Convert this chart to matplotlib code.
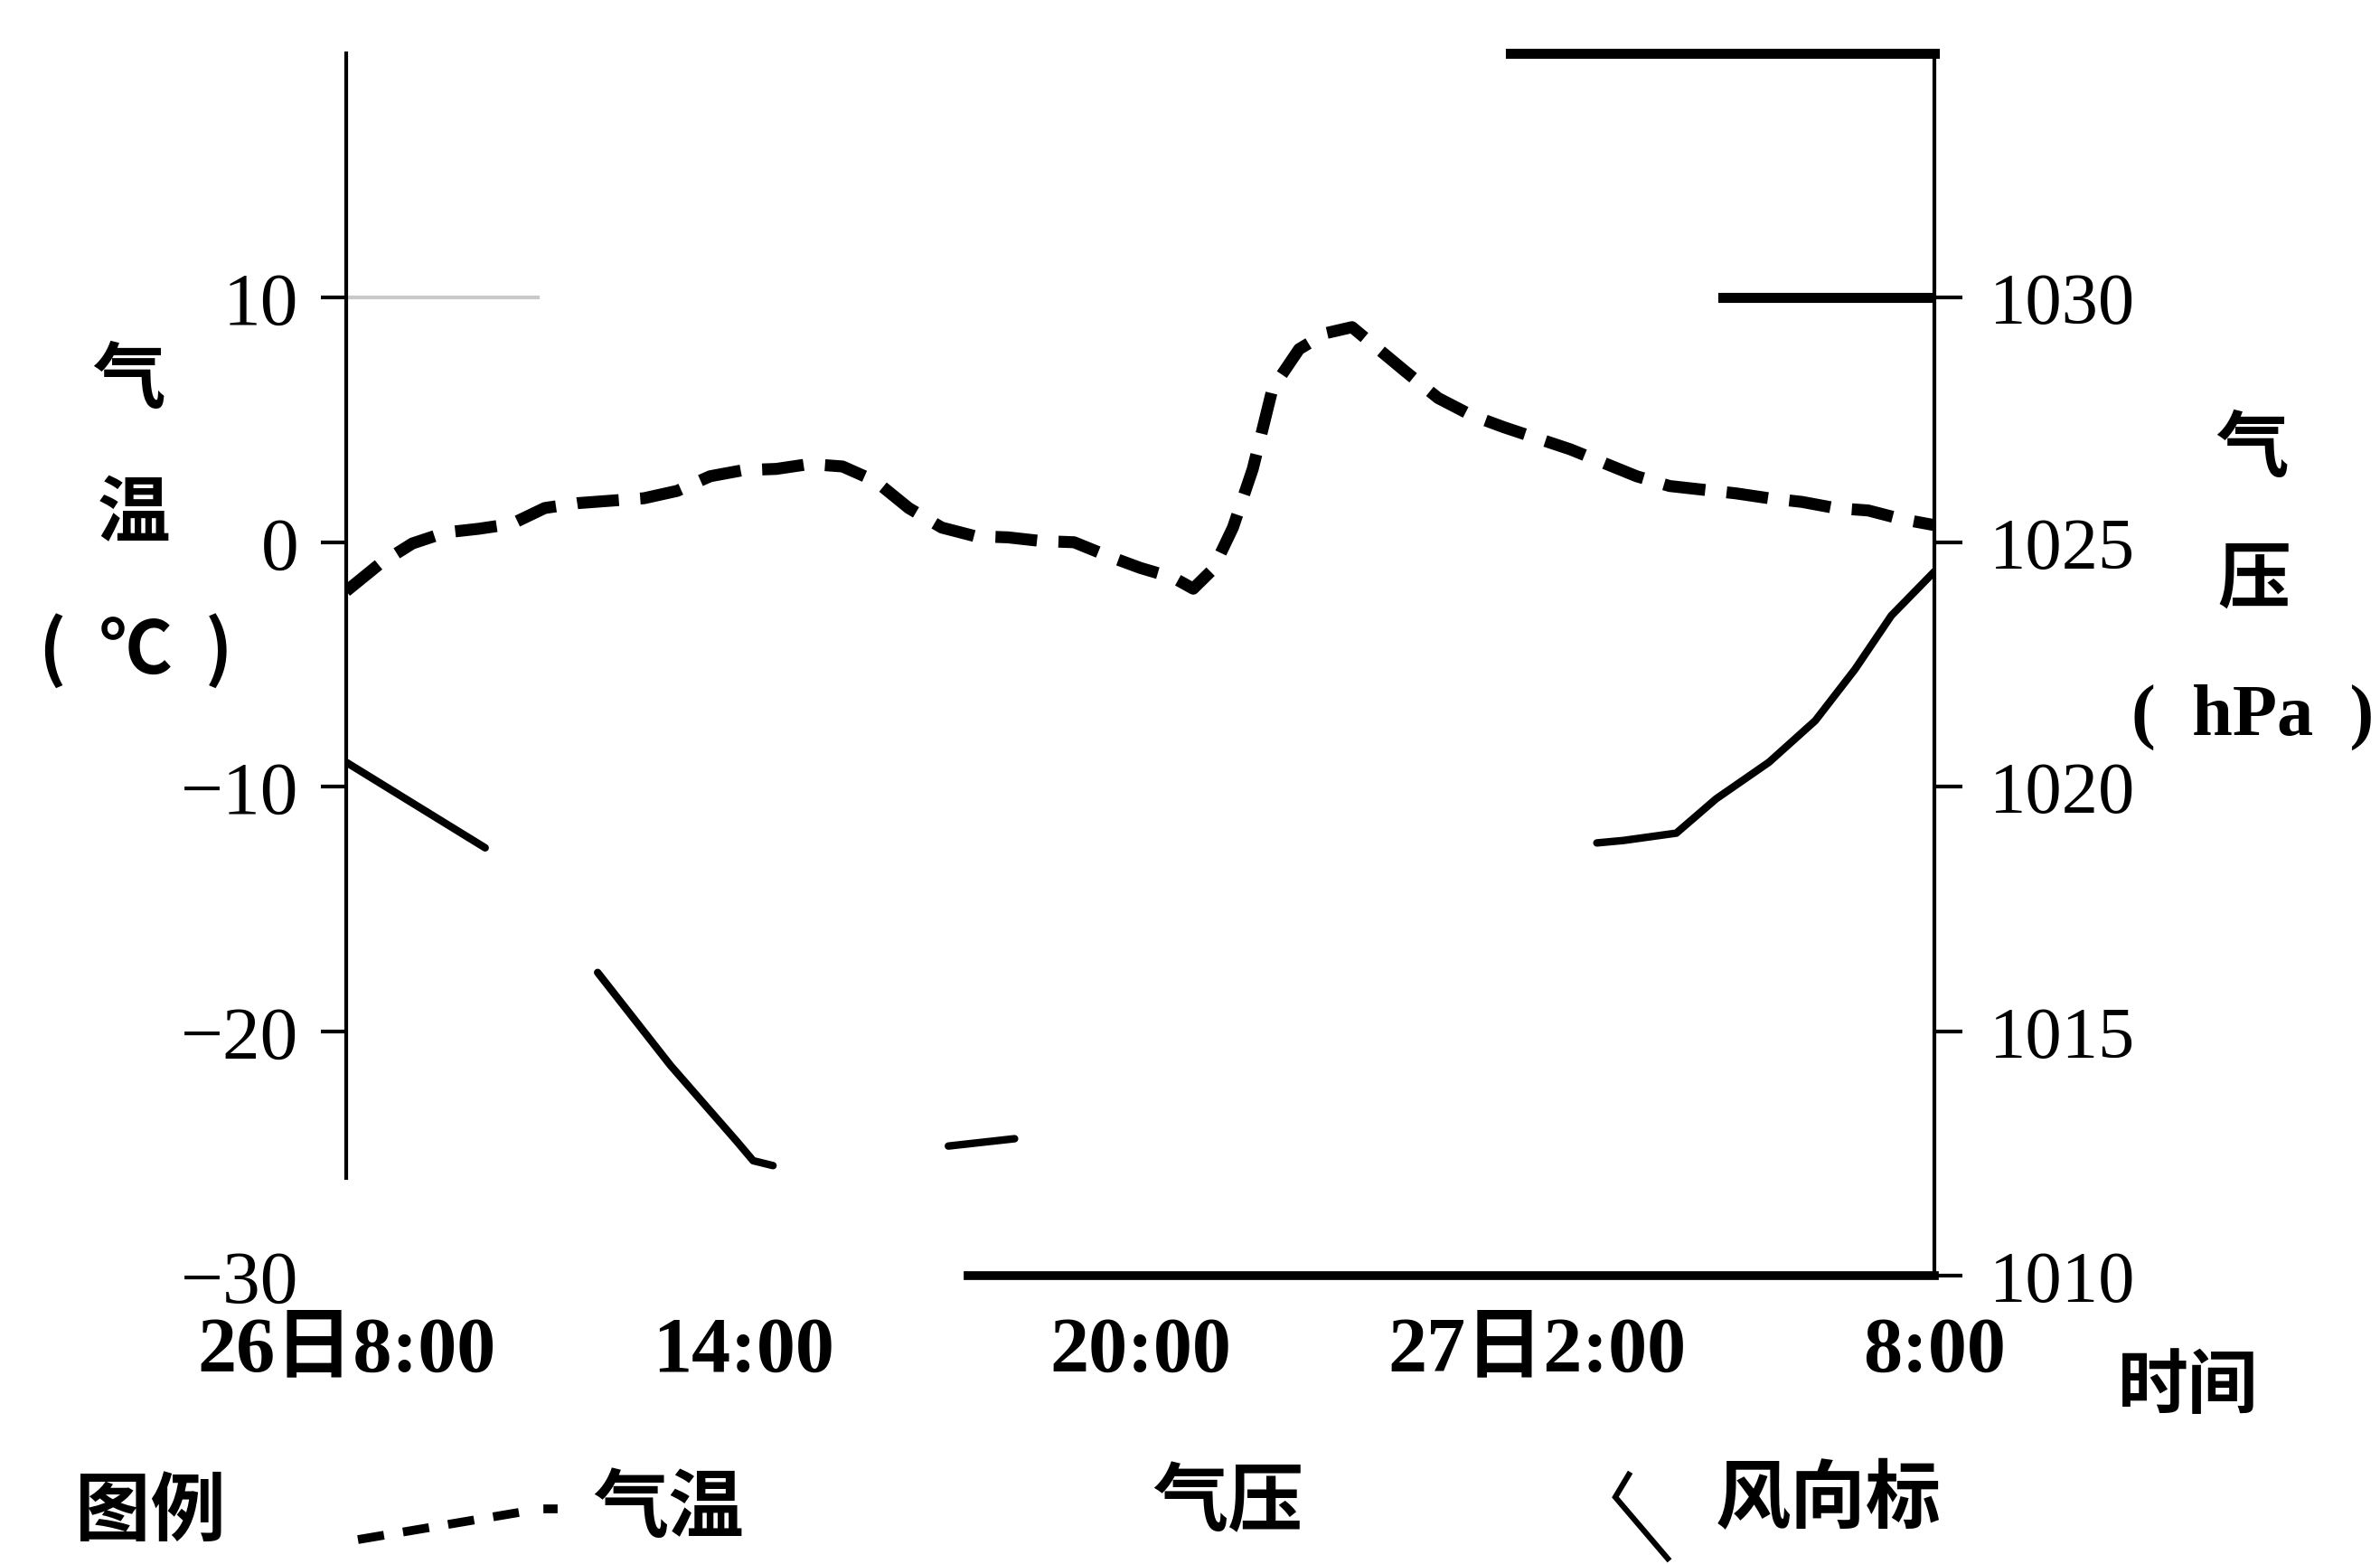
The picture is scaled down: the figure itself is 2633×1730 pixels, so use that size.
import numpy as np
import matplotlib
matplotlib.use("Agg")
import matplotlib.pyplot as plt
from matplotlib.lines import Line2D

# ---------------- data ----------------
# hours after 26日 8:00
temp_hours = [0, 0.5, 1.0, 1.5, 2.0, 2.5, 3.0, 3.5, 4.0, 4.5, 5.0, 5.5, 6.0, 6.5,
              7.0, 7.5, 8.0, 8.5, 9.0, 9.5, 10.0, 10.5, 11.0, 11.5, 12.0, 12.5,
              12.8, 13.1, 13.4, 13.7, 14.0, 14.4, 14.8, 15.2, 15.6, 16.0, 16.5,
              17.0, 17.5, 18.0, 18.5, 19.0, 19.5, 20.0, 20.5, 21.0, 21.5, 22.0,
              22.5, 23.0, 23.5, 24.0]
temp_c = [-2.0, -0.9, -0.05, 0.4, 0.55, 0.75, 1.4, 1.6, 1.7, 1.8, 2.1, 2.7, 2.95, 3.0,
          3.2, 3.1, 2.5, 1.4, 0.6, 0.25, 0.2, 0.05, 0.0, -0.55, -1.05, -1.45,
          -1.9, -1.1, 0.6, 3.0, 6.3, 7.9, 8.55, 8.8, 7.9, 7.0, 5.9,
          5.2, 4.7, 4.25, 3.8, 3.25, 2.7, 2.3, 2.15, 2.0, 1.8, 1.65,
          1.4, 1.3, 0.95, 0.7]

# pressure trace: only the parts that are legible in the scan (gaps = nan)
pres_hours = [0.0, 2.1, np.nan, 3.8, 4.9, 5.9, 6.15, 6.45, np.nan, 9.1, 10.1, np.nan,
              18.9, 19.3, 20.1, 20.7, 21.5, 22.2, 22.8, 23.35, 24.0]
pres_hpa = [1020.5, 1018.75, np.nan, 1016.2, 1014.3, 1012.75, 1012.35, 1012.25, np.nan,
            1012.65, 1012.8, np.nan,
            1018.85, 1018.9, 1019.05, 1019.75, 1020.5, 1021.35, 1022.4, 1023.5, 1024.4]

xtick_hours = [0, 6, 12, 18, 24]
xtick_labels = ["26日8:00", "14:00", "20:00", "27日2:00", "8:00"]
temp_ticks = [10, 0, -10, -20, -30]
temp_tick_labels = ["10", "0", "\u221210", "\u221220", "\u221230"]
pres_ticks = [1030, 1025, 1020, 1015, 1010]
pres_tick_labels = ["1030", "1025", "1020", "1015", "1010"]

# ---------------- figure ----------------
W, H = 2633, 1731
plt.rcParams["font.family"] = ["Liberation Serif", "Noto Sans CJK SC", "DejaVu Sans"]
CJK = ["Noto Sans CJK SC", "DejaVu Sans"]

fig = plt.figure(figsize=(W / 100, H / 100), dpi=100)
fig.patch.set_facecolor("white")

L, R, T, B = 383, 2140, 60, 1412
ax = fig.add_axes([L / W, 1 - B / H, (R - L) / W, (B - T) / H])
ax.set_xlim(0, 24)
ax.set_ylim(-30, 20)
ax2 = ax.twinx()
ax2.set_ylim(1010, 1035)

# spines as seen in the (partly faded) scan
ax.spines["left"].set_linewidth(3.0)
ax.spines["left"].set_bounds(-26, 20)
ax.spines["right"].set_visible(False)
ax.spines["top"].set_linewidth(8)
ax.spines["top"].set_bounds(17.6, 24)
ax.spines["bottom"].set_linewidth(7)
ax.spines["bottom"].set_bounds(9.4, 24)
for s in ["left", "top", "bottom"]:
    ax2.spines[s].set_visible(False)
ax2.spines["right"].set_linewidth(3.0)

# horizontal line at 10 °C / 1030 hPa
ax.axhline(10, xmin=0, xmax=2.9 / 24, color="#c9c9c9", lw=3)
ax.axhline(10, xmin=20.8 / 24, xmax=1, color="black", lw=8)

# series
ax.plot(temp_hours, temp_c, color="black", lw=9.5,
        linestyle=(0, (3.5, 1.8)), dash_capstyle="butt", zorder=3)
ax2.plot(pres_hours, pres_hpa, color="black", lw=6,
         solid_capstyle="round", zorder=3)

# ticks
ax.set_xticks(xtick_hours)
ax.set_xticklabels(xtick_labels, fontsize=62, fontweight="bold")
ax.tick_params(axis="x", length=0, pad=32)
ax.set_yticks(temp_ticks)
ax.set_yticklabels(temp_tick_labels, fontsize=60)
ax.tick_params(axis="y", direction="out", length=20, width=3, pad=18)
ax.yaxis.get_major_ticks()[-1].tick1line.set_visible(False)
ax2.set_yticks(pres_ticks)
ax2.set_yticklabels(pres_tick_labels, fontsize=58)
ax2.tick_params(axis="y", direction="out", length=22, width=3, pad=22)

def ftext(x, y, s, size, family=CJK, weight="bold", **kw):
    fig.text(x / W, 1 - y / H, s, ha="center", va="center", fontsize=size,
             family=family, fontweight=weight, **kw)

# left axis title
ftext(142, 421, "气", 58)
ftext(148, 570, "温", 58)
ftext(150, 720, "(  ℃  )", 58)
# right axis title
ftext(2491, 498, "气", 58)
ftext(2494, 642, "压", 58)
ftext(2492, 793, "(  hPa  )", 58, family=["Liberation Serif", "DejaVu Serif"])
# time label
ftext(2421, 1534, "时间", 56)

# legend row
ftext(166, 1673, "图例", 60)
fig.add_artist(Line2D([396 / W, 574 / W], [1 - 1704 / H, 1 - 1674 / H],
                      color="black", lw=7, linestyle=(0, (3.0, 2.2)),
                      dash_capstyle="butt", transform=fig.transFigure))
fig.add_artist(Line2D([606 / W, 612 / W], [1 - 1670 / H, 1 - 1670 / H],
                      color="black", lw=7, transform=fig.transFigure))
ftext(740, 1670, "气温", 60)
ftext(1359, 1663, "气压", 60)
fig.add_artist(Line2D([1802 / W, 1787 / W, 1845 / W],
                      [1 - 1632 / H, 1 - 1657 / H, 1 - 1725 / H],
                      color="black", lw=4.5, transform=fig.transFigure,
                      solid_joinstyle="miter"))
ftext(2023, 1660, "风向标", 60)

fig.savefig("out.png", dpi=100, facecolor="white")
